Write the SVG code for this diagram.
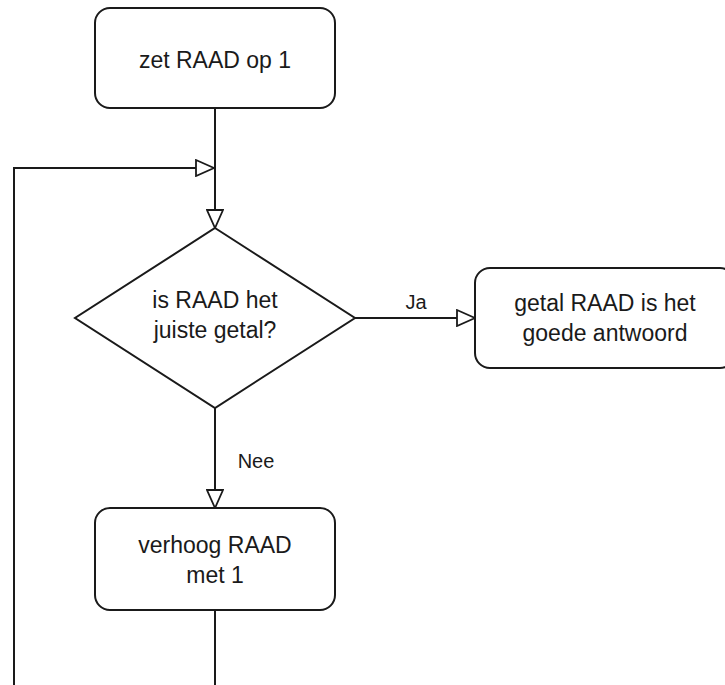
<svg xmlns="http://www.w3.org/2000/svg" width="725" height="685" viewBox="0 0 725 685">
  <style>
    .shape { fill: #ffffff; stroke: #1a1a1a; stroke-width: 2; }
    .edge { fill: none; stroke: #1a1a1a; stroke-width: 2; }
    .txt { font-family: "Liberation Sans", Arial, sans-serif; font-size: 23px; fill: #1a1a1a; text-anchor: middle; }
    .lbl { font-family: "Liberation Sans", Arial, sans-serif; font-size: 20px; fill: #1a1a1a; text-anchor: middle; }
  </style>
  <defs>
    <marker id="open-arrow" viewBox="0 0 20 18" refX="19" refY="9" markerWidth="20" markerHeight="18" markerUnits="userSpaceOnUse" orient="auto">
      <path d="M1,1 L19,9 L1,17 Z" fill="#ffffff" stroke="#1a1a1a" stroke-width="1.8"/>
    </marker>
  </defs>
  <rect width="725" height="685" fill="#ffffff"/>

  <g id="connectors">
    <path class="edge" d="M215,108 V228" marker-end="url(#open-arrow)"/>
    <path class="edge" d="M355,318 H475" marker-end="url(#open-arrow)"/>
    <path class="edge" d="M215,408 V508" marker-end="url(#open-arrow)"/>
    <path class="edge" d="M215,610 V720 H14 V168 H214" marker-end="url(#open-arrow)"/>
    <text class="lbl" x="416" y="309">Ja</text>
    <text class="lbl" x="256" y="468">Nee</text>
  </g>

  <g id="start">
    <rect class="shape" x="95" y="8" width="240" height="100" rx="15"/>
    <text class="txt" x="215" y="68">zet RAAD op 1</text>
  </g>

  <g id="check">
    <polygon class="shape" points="215,228 355,318 215,408 75,318"/>
    <text class="txt" x="215" y="308">is RAAD het</text>
    <text class="txt" x="215" y="338">juiste getal?</text>
  </g>

  <g id="answer">
    <rect class="shape" x="475" y="268" width="260" height="100" rx="15"/>
    <text class="txt" x="605" y="311">getal RAAD is het</text>
    <text class="txt" x="605" y="341">goede antwoord</text>
  </g>

  <g id="increment">
    <rect class="shape" x="95" y="508" width="240" height="102" rx="15"/>
    <text class="txt" x="215" y="553">verhoog RAAD</text>
    <text class="txt" x="215" y="583">met 1</text>
  </g>
</svg>
